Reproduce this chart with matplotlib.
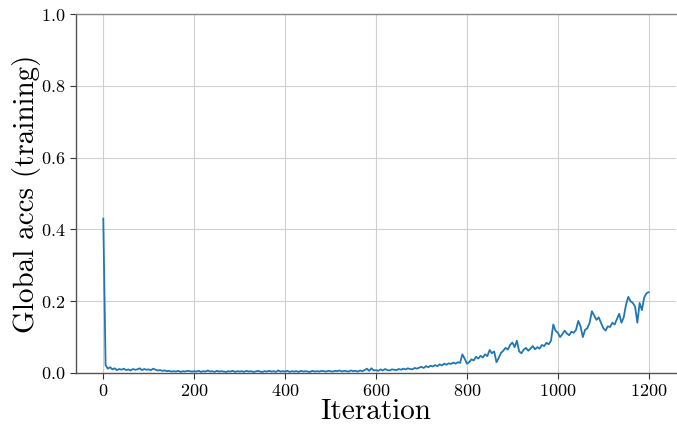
import numpy as np
import matplotlib
matplotlib.use("Agg")
import matplotlib.pyplot as plt

# Global accuracy (training), sampled every 5 iterations
acc_0_95 = [0.43, 0.022, 0.012, 0.016, 0.010, 0.013, 0.008, 0.011, 0.009, 0.012,
            0.008, 0.010, 0.007, 0.011, 0.009, 0.010, 0.013, 0.008, 0.011, 0.009]
acc_100_195 = [0.010, 0.008, 0.012, 0.009, 0.007, 0.008, 0.006, 0.007, 0.005, 0.006,
               0.004, 0.005, 0.004, 0.006, 0.003, 0.005, 0.004, 0.006, 0.005, 0.004]
acc_200_295 = [0.005, 0.004, 0.006, 0.003, 0.005, 0.004, 0.007, 0.004, 0.005, 0.003,
               0.006, 0.004, 0.005, 0.004, 0.003, 0.005, 0.004, 0.006, 0.003, 0.005]
acc_300_395 = [0.004, 0.005, 0.003, 0.006, 0.004, 0.005, 0.003, 0.004, 0.006, 0.004,
               0.003, 0.005, 0.004, 0.006, 0.004, 0.005, 0.003, 0.007, 0.004, 0.005]
acc_400_495 = [0.004, 0.006, 0.003, 0.005, 0.004, 0.005, 0.003, 0.006, 0.004, 0.005,
               0.004, 0.003, 0.006, 0.004, 0.005, 0.004, 0.006, 0.005, 0.004, 0.006]
acc_500_595 = [0.005, 0.004, 0.006, 0.005, 0.007, 0.004, 0.006, 0.005, 0.004, 0.007,
               0.005, 0.006, 0.004, 0.007, 0.005, 0.008, 0.012, 0.006, 0.013, 0.007]
acc_600_695 = [0.008, 0.006, 0.010, 0.007, 0.011, 0.008, 0.007, 0.010, 0.009, 0.008,
               0.011, 0.009, 0.012, 0.010, 0.013, 0.011, 0.010, 0.014, 0.012, 0.015]
acc_700_795 = [0.017, 0.014, 0.019, 0.016, 0.020, 0.018, 0.022, 0.019, 0.024, 0.021,
               0.026, 0.023, 0.027, 0.025, 0.029, 0.026, 0.030, 0.028, 0.052, 0.040]
acc_800_895 = [0.026, 0.030, 0.038, 0.035, 0.045, 0.040, 0.048, 0.043, 0.052, 0.047,
               0.064, 0.055, 0.060, 0.030, 0.042, 0.056, 0.062, 0.070, 0.065, 0.078]
acc_900_995 = [0.085, 0.072, 0.090, 0.060, 0.055, 0.065, 0.070, 0.062, 0.068, 0.075,
               0.066, 0.072, 0.068, 0.078, 0.075, 0.084, 0.080, 0.090, 0.135, 0.118]
acc_1000_1095 = [0.112, 0.100, 0.108, 0.118, 0.110, 0.105, 0.115, 0.112, 0.120, 0.145,
                 0.130, 0.100, 0.120, 0.125, 0.140, 0.172, 0.160, 0.148, 0.155, 0.140]
acc_1100_1200 = [0.125, 0.118, 0.130, 0.128, 0.140, 0.135, 0.150, 0.165, 0.140, 0.155,
                 0.190, 0.212, 0.200, 0.195, 0.185, 0.140, 0.195, 0.175, 0.210, 0.222,
                 0.225]

acc = np.array(acc_0_95 + acc_100_195 + acc_200_295 + acc_300_395 + acc_400_495
               + acc_500_595 + acc_600_695 + acc_700_795 + acc_800_895 + acc_900_995
               + acc_1000_1095 + acc_1100_1200)
step = 5
iterations = np.arange(len(acc)) * step

plt.rcParams['font.family'] = 'serif'
plt.rcParams['font.serif'] = ['cmr10']
plt.rcParams['mathtext.fontset'] = 'cm'
plt.rcParams['axes.formatter.use_mathtext'] = True

fig = plt.figure(figsize=(6.77, 4.25), dpi=100)
ax = fig.add_axes([0.1123, 0.1224, 0.8862, 0.8446])

ax.plot(iterations, acc, color='#1f77b4', lw=1.3)
ax.set_ylim(0, 1.0)
ax.set_xticks([0, 200, 400, 600, 800, 1000, 1200])
ax.set_yticks([0.0, 0.2, 0.4, 0.6, 0.8, 1.0])
ax.grid(True, color='#d0d0d0', lw=0.8)
ax.set_axisbelow(True)

for s in ['left', 'bottom', 'top']:
    ax.spines[s].set_color('#555555')
    ax.spines[s].set_linewidth(1.0)
ax.spines['top'].set_color('#888888')
ax.spines['right'].set_visible(False)

ax.tick_params(axis='both', labelsize=13, color='#333333', length=4, width=0.8)
ax.set_xlabel('Iteration', fontsize=21)
ax.set_ylabel('Global accs (training)', fontsize=21)
ax.xaxis.set_label_coords(0.5, -0.0715, transform=ax.transAxes)
ax.yaxis.set_label_coords(-0.058, 0.5, transform=ax.transAxes)

fig.savefig('out.png', dpi=100)
